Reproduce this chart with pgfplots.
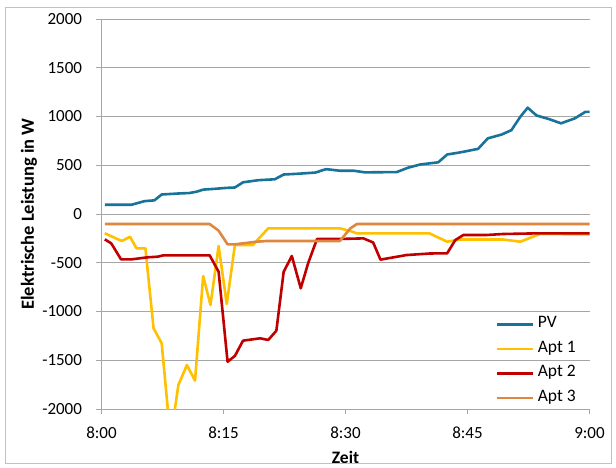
\documentclass[border=0pt]{standalone}
\usepackage{fontspec}
\setmainfont{Carlito}
\usepackage{pgfplots}
\pgfplotsset{compat=1.18}
\definecolor{pvc}{HTML}{17739A}
\definecolor{a1c}{HTML}{FFC000}
\definecolor{a2c}{HTML}{C00000}
\definecolor{a3c}{HTML}{E0873F}
\definecolor{gridc}{HTML}{A6A6A6}
\begin{document}
\begin{tikzpicture}
\begin{axis}[
  scale only axis, width=488bp, height=390bp,
  xmin=0, xmax=60, ymin=-2000, ymax=2000,
  axis x line*=bottom, axis y line*=left,
  axis line style={draw=gridc, line width=0.9bp, -},
  xtick={0,15,30,45,60},
  xticklabels={8:00,8:15,8:30,8:45,9:00},
  ytick={-2000,-1500,-1000,-500,0,500,1000,1500,2000},
  yticklabels={-2000,-1500,-1000,-500,0,500,1000,1500,2000},
  tick align=outside, major tick length=5bp,
  tick style={draw=gridc, line width=0.9bp},
  ymajorgrids, grid style={draw=gridc, line width=0.9bp},
  ticklabel style={font=\fontsize{17bp}{20bp}\selectfont},
  xticklabel style={anchor=center, yshift=-19bp},
  yticklabel style={anchor=east, xshift=-11bp},
  xlabel={Zeit}, ylabel={Elektrische Leistung in W},
  xlabel style={font=\bfseries\fontsize{17.5bp}{20bp}\selectfont, anchor=center, at={(axis description cs:0.5,-0.1231)}},
  ylabel style={font=\bfseries\fontsize{18.5bp}{20bp}\selectfont, anchor=center, at={(axis description cs:-0.1486,0.5)}},
  legend style={at={(axis description cs:0.8084,0.2341)}, anchor=north west, draw=none, fill=none,
    font=\fontsize{17.5bp}{20bp}\selectfont, inner sep=0bp, row sep=11bp,
    nodes={inner sep=0bp, text height=10bp, text depth=3.5bp},
    /tikz/every odd column/.append style={column sep=3bp}},
  legend cell align=left,
  legend image code/.code={\draw[#1, line width=2.6bp] (0bp,0bp) -- (36bp,0bp);},
  every axis plot/.append style={line width=2.6bp, line join=round, mark=none},
]
\addplot[pvc] coordinates {
(0.4,95) (3.7,95) (5.3,132) (6.5,140) (7.4,200) (9.4,210) (10.8,215) (11.7,229) (12.5,250) (13.9,258) (15.4,268) (16.4,272) (17.4,325) (19.3,347) (21.3,356) (22.4,405) (24,412) (26.3,425) (27.6,460) (29.3,444) (31,444) (32.4,427) (36.3,430) (37.7,475) (39.2,508) (41.4,530) (42.5,610) (44.1,632) (46.3,668) (47.5,776) (49.2,815) (50.4,860) (51.5,998) (52.4,1090) (53.5,1010) (55,974) (56.5,930) (58.2,981) (59.5,1048) (60.5,1048)
};
\addlegendentry{PV}
\addplot[a1c] coordinates {
(0.4,-198) (2.5,-277) (3.5,-233) (4.3,-352) (5.4,-352) (6.4,-1172) (7.4,-1326) (8.23,-2070) (8.9,-2070) (9.45,-1754) (10.5,-1549) (11.5,-1709) (12.5,-636) (13.4,-933) (14.4,-328) (15.4,-923) (16.4,-318) (18.6,-318) (20.5,-147) (29.3,-147) (30.6,-175) (31.4,-198) (40.3,-198) (42.5,-284) (44.1,-262) (49.4,-262) (51.5,-284) (53.9,-205) (60.5,-210)
};
\addlegendentry{Apt 1}
\addplot[a2c] coordinates {
(0.4,-260) (1.2,-301) (2.4,-465) (3.7,-465) (5.7,-444) (6.9,-438) (7.6,-424) (13.3,-424) (14.4,-592) (15.5,-1515) (16.4,-1456) (17.4,-1299) (19.5,-1275) (20.5,-1292) (21.5,-1197) (22.4,-592) (23.4,-431) (24.5,-762) (25.4,-506) (26.5,-256) (29.3,-256) (32.2,-250) (33.4,-292) (34.3,-468) (37.5,-421) (40.4,-405) (42.5,-403) (43.5,-267) (44.5,-215) (47.4,-215) (49.4,-205) (53.9,-198) (60.5,-198)
};
\addlegendentry{Apt 2}
\addplot[a3c] coordinates {
(0.4,-103) (13.3,-103) (14.4,-171) (15.5,-311) (16.4,-311) (19.1,-284) (20.3,-277) (29.3,-277) (30.6,-147) (31.4,-103) (60.5,-103)
};
\addlegendentry{Apt 3}
\end{axis}
\draw[gridc!70, line width=0.8bp] ([shift={(-96.5bp,-54bp)}]current axis.south west) rectangle ([shift={(21.5bp,12bp)}]current axis.north east);
\path ([shift={(-101.5bp,-59bp)}]current axis.south west) rectangle ([shift={(26.5bp,19bp)}]current axis.north east);
\end{tikzpicture}
\end{document}
